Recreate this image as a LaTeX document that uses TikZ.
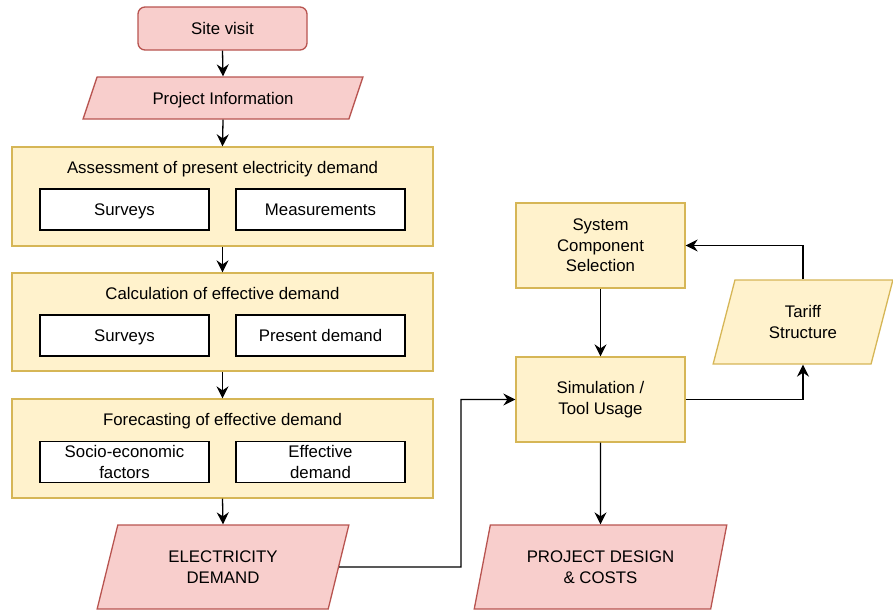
\documentclass[tikz,border=0pt]{standalone}
\usepackage{fontspec}
\setmainfont{Liberation Sans}
\usetikzlibrary{shapes.geometric,arrows.meta,calc}
\definecolor{pinkfill}{HTML}{F8CECC}
\definecolor{pinkline}{HTML}{B85450}
\definecolor{yelfill}{HTML}{FFF2CC}
\definecolor{yelline}{HTML}{D6B656}
\tikzset{
  every node/.style={font=\fontsize{16.8}{20.5}\selectfont, align=center, inner sep=0pt},
  oneline/.style={text height=12pt, text depth=0pt},
  pinkround/.style={draw=pinkline, fill=pinkfill, line width=1.3pt, rounded corners=7pt, rectangle},
  pinkpara/.style={draw=pinkline, fill=pinkfill, line width=1.3pt, trapezium, trapezium stretches=true},
  yelpara/.style={draw=yelline, fill=yelfill, line width=1.3pt, trapezium, trapezium stretches=true},
  yelbox/.style={draw=yelline, fill=yelfill, line width=1.3pt, rectangle},
  whitebox/.style={draw=black, fill=white, line width=1.3pt, rectangle, minimum width=169pt, minimum height=41pt},
  title/.style={rectangle, oneline},
  conn/.style={line width=1.3pt, -{Stealth[length=12pt,width=12pt,inset=4pt]}},
}
\begin{document}
\begin{tikzpicture}[x=1pt,y=-1pt]
\useasboundingbox (0,0) rectangle (893,611);
% left column
\node[pinkround, oneline, minimum width=169pt, minimum height=43pt] (site) at (222.5,28.5) {Site visit};
\node[pinkpara, oneline, trapezium left angle=56.8, trapezium right angle=123.2, minimum width=280pt, minimum height=42pt] (proj) at (223,98) {Project Information};

\node[yelbox, minimum width=421pt, minimum height=99pt] (box1) at (222.5,196.5) {};
\node[title] (t1) at (222.5,167.5) {Assessment of present electricity demand};
\node[whitebox, oneline] (s1) at (124.5,209.5) {Surveys};
\node[whitebox, oneline] (m1) at (320.5,209.5) {Measurements};

\node[yelbox, minimum width=421pt, minimum height=98pt] (box2) at (222.5,322) {};
\node[title] (t2) at (222.5,293.5) {Calculation of effective demand};
\node[whitebox, oneline] (s2) at (124.5,335.5) {Surveys};
\node[whitebox, oneline] (pd) at (320.5,335.5) {Present demand};

\node[yelbox, minimum width=421pt, minimum height=99pt] (box3) at (222.5,448.5) {};
\node[title] (t3) at (222.5,419.5) {Forecasting of effective demand};
\node[whitebox] (soc) at (124.5,462) {Socio-economic\\factors};
\node[whitebox] (eff) at (320.5,462) {Effective\\demand};

\node[pinkpara, trapezium left angle=71.6, trapezium right angle=108.4, minimum width=252pt, minimum height=84pt] (elec) at (223,567) {ELECTRICITY\\DEMAND};

% right column
\node[yelbox, minimum width=169pt, minimum height=85pt] (sys) at (600.5,245.5) {System\\Component\\Selection};
\node[yelbox, minimum width=169pt, minimum height=85pt] (sim) at (600.5,399.5) {Simulation /\\Tool Usage};
\node[yelpara, trapezium left angle=71.6, trapezium right angle=108.4, minimum width=180pt, minimum height=84pt] (tar) at (803,322) {Tariff\\Structure};
\node[pinkpara, trapezium left angle=71.6, trapezium right angle=108.4, minimum width=253pt, minimum height=84pt] (pdc) at (600.5,567) {PROJECT DESIGN\\\& COSTS};

\coordinate (bend1) at (461,567);

% connectors
\draw[conn] (site.south) -- (proj.north);
\draw[conn] (proj.south) -- (box1.north);
\draw[conn] (box1.south) -- (box2.north);
\draw[conn] (box2.south) -- (box3.north);
\draw[conn] (box3.south) -- (elec.north);
\draw[conn] (elec.east) -- (bend1) |- (sim.west);
\draw[conn] (sys.south) -- (sim.north);
\draw[conn] (sim.east) -| (tar.south);
\draw[conn] (tar.north) |- (sys.east);
\draw[conn] (sim.south) -- (pdc.north);
\end{tikzpicture}
\end{document}
